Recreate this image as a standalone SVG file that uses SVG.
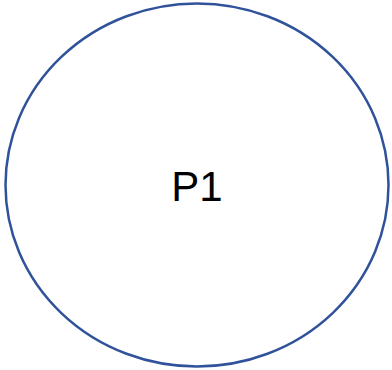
<svg xmlns="http://www.w3.org/2000/svg" width="392" height="370" viewBox="0 0 392 370">
<style>
.node{fill:#fff;stroke:#2F529A;stroke-width:2.5}
.lbl{font-family:"Liberation Sans",Arial,sans-serif;font-size:42px;fill:#000;text-anchor:middle}
</style>
<rect width="392" height="370" fill="#fff"/>
<g id="connectors"></g>
<g id="P1">
<ellipse class="node" cx="197" cy="185" rx="191.5" ry="181.5"/>
<text class="lbl" x="197" y="201">P1</text>
</g>
</svg>
